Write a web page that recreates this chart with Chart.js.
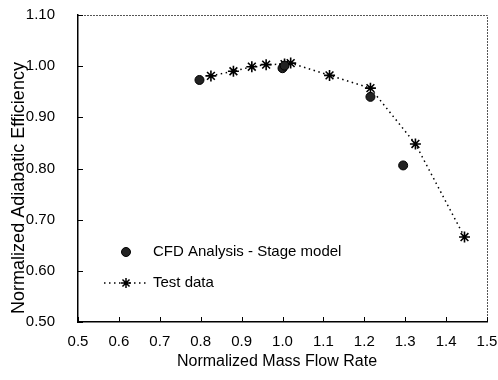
<!DOCTYPE html>
<html>
<head>
<meta charset="utf-8">
<script src="https://cdn.jsdelivr.net/npm/chart.js@4.4.0/dist/chart.umd.min.js"></script>
<style>
  html, body { margin: 0; padding: 0; background: #fff; }
  #wrap { width: 498px; height: 380px; }
</style>
</head>
<body>
<div id="wrap"><canvas id="c" width="498" height="380"></canvas></div>
<script>
// ---- data ----
const cfdFlow = [0.797, 1.000, 1.005, 1.215, 1.295];
const cfdEff  = [0.973, 0.996, 1.001, 0.940, 0.806];
const testFlow = [0.825, 0.880, 0.925, 0.960, 1.005, 1.020, 1.115, 1.215, 1.325, 1.445];
const testEff  = [0.981, 0.990, 0.999, 1.003, 1.004, 1.006, 0.982, 0.957, 0.848, 0.666];
const seriesNames = ["CFD Analysis - Stage model", "Test data"];
const xTitle = "Normalized Mass Flow Rate";
const yTitle = "Normalized Adiabatic Efficiency";

const FONT = "'Liberation Sans', Arial, sans-serif";

const toPts = (xs, ys) => xs.map((x, i) => ({x: x, y: ys[i]}));

const frameAndTicks = {
  id: 'frameAndTicks',
  afterDatasetsDraw(chart) {
    const ctx = chart.ctx;
    const a = chart.chartArea;
    const xs = chart.scales.x, ys = chart.scales.y;
    ctx.save();
    // dotted top and right
    ctx.strokeStyle = '#555';
    ctx.lineWidth = 1;
    ctx.setLineDash([2, 1]);
    ctx.beginPath();
    ctx.moveTo(a.left, a.top + 0.5);
    ctx.lineTo(a.right + 0.5, a.top + 0.5);
    ctx.lineTo(a.right + 0.5, a.bottom);
    ctx.stroke();
    ctx.setLineDash([]);
    // inward ticks
    ctx.strokeStyle = '#000';
    ctx.beginPath();
    xs.ticks.forEach(t => {
      const px = Math.round(xs.getPixelForValue(t.value)) + 0.5;
      ctx.moveTo(px, a.bottom);
      ctx.lineTo(px, a.bottom - 5);
    });
    ys.ticks.forEach(t => {
      const py = Math.round(ys.getPixelForValue(t.value)) + 0.5;
      ctx.moveTo(a.left, py);
      ctx.lineTo(a.left + 5, py);
    });
    ctx.stroke();

    // axis titles
    ctx.fillStyle = '#000';
    ctx.textAlign = 'center';
    ctx.textBaseline = 'middle';
    ctx.font = '16px ' + FONT;
    ctx.fillText(xTitle, a.left + 199, 362);
    ctx.save();
    ctx.translate(19, a.top + 173);
    ctx.rotate(-Math.PI / 2);
    ctx.font = '18px ' + FONT;
    ctx.fillText(yTitle, 0, 0);
    ctx.restore();

    // legend inside the plot
    const ds = chart.data.datasets;
    const lx = a.left + 48, ly1 = a.top + 237, ly2 = a.top + 268;
    ctx.fillStyle = '#222';
    ctx.strokeStyle = '#000';
    ctx.lineWidth = 1;
    ctx.beginPath(); ctx.arc(lx, ly1, 4.5, 0, Math.PI * 2); ctx.fill(); ctx.stroke();
    ctx.lineWidth = 1.5;
    ctx.setLineDash([1.5, 3.5]);
    ctx.beginPath(); ctx.moveTo(lx - 22, ly2); ctx.lineTo(lx + 22, ly2); ctx.stroke();
    ctx.setLineDash([]);
    Chart.helpers.drawPoint(ctx, {pointStyle: 'star', radius: 5, rotation: 0, borderWidth: 1.5}, lx, ly2);
    ctx.fillStyle = '#000';
    ctx.font = '15px ' + FONT;
    ctx.textBaseline = 'middle';
    ctx.textAlign = 'left';
    ctx.fillText(ds[0].label, lx + 27, ly1);
    ctx.fillText(ds[1].label, lx + 27, ly2);
    ctx.restore();
  }
};

new Chart(document.getElementById('c'), {
  type: 'scatter',
  data: {
    datasets: [
      {
        label: seriesNames[0],
        data: toPts(cfdFlow, cfdEff),
        showLine: false,
        pointStyle: 'circle',
        pointRadius: 4.5,
        backgroundColor: '#222',
        borderColor: '#000',
        borderWidth: 1
      },
      {
        label: seriesNames[1],
        data: toPts(testFlow, testEff),
        showLine: true,
        borderDash: [1.5, 3.5],
        borderWidth: 1.5,
        borderColor: '#000',
        pointStyle: 'star',
        pointRadius: 5.5,
        pointBorderWidth: 1.6,
        pointBorderColor: '#000',
        backgroundColor: '#000',
        tension: 0
      }
    ]
  },
  options: {
    responsive: false,
    animation: false,
    devicePixelRatio: 1,
    layout: { padding: { top: 15, right: 11, left: 0, bottom: 0 } },
    plugins: { legend: { display: false }, tooltip: { enabled: false } },
    scales: {
      x: {
        type: 'linear',
        min: 0.5, max: 1.5,
        afterFit: s => { s.height = 58; s.paddingLeft = 0; s.paddingRight = 0; },
        grid: { display: false },
        border: { display: true, color: '#000', width: 1.5 },
        ticks: {
          stepSize: 0.1,
          padding: 3,
          color: '#000',
          font: { family: FONT, size: 15 },
          maxRotation: 0,
          callback: v => Number(v).toFixed(1)
        },
        title: { display: false }
      },
      y: {
        type: 'linear',
        min: 0.5, max: 1.1,
        afterFit: s => { s.width = 78; s.paddingTop = 0; s.paddingBottom = 0; },
        grid: { display: false },
        border: { display: true, color: '#000', width: 1.5 },
        ticks: {
          stepSize: 0.1,
          padding: 15,
          color: '#000',
          font: { family: FONT, size: 15 },
          callback: v => Number(v).toFixed(2)
        },
        title: { display: false }
      }
    }
  },
  plugins: [frameAndTicks]
});
</script>
</body>
</html>
